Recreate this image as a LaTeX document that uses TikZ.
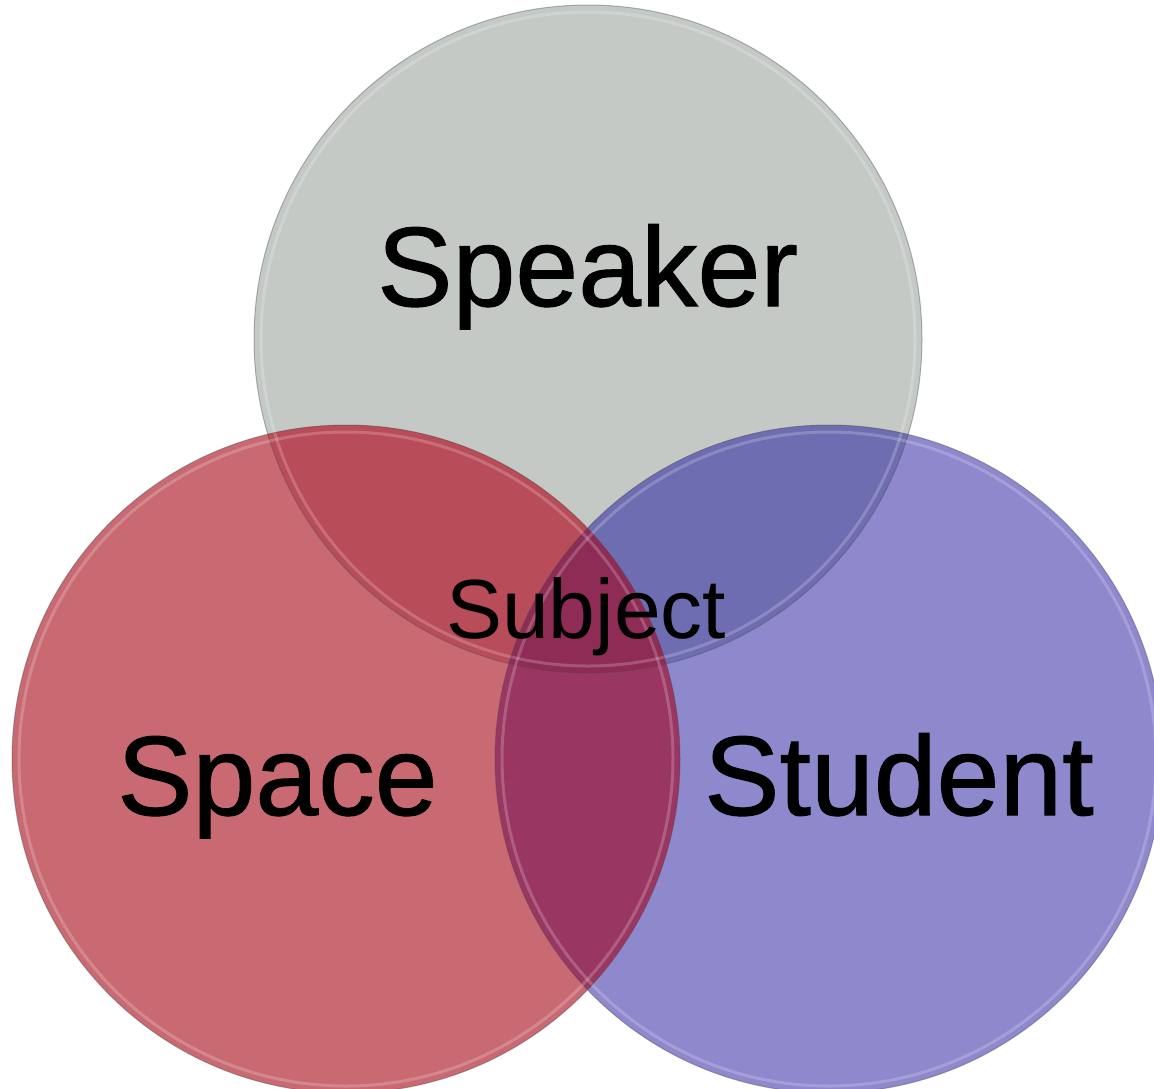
\documentclass[tikz,border=0pt]{standalone}
\usepackage{fontspec}
\setmainfont{Liberation Sans}
\newfontfamily\heavyish[FakeBold=0.9]{Liberation Sans}
\definecolor{cgray}{HTML}{C4C9C6}
\definecolor{cred}{HTML}{C96A73}
\definecolor{cpurple}{HTML}{8E88CD}
\definecolor{crg}{HTML}{B84C58}
\definecolor{cpg}{HTML}{6F6DB1}
\definecolor{crp}{HTML}{993662}
\definecolor{crpg}{HTML}{8E2C55}
\tikzset{
  rim/.style={draw=black!70, draw opacity=0.4, line width=1pt},
  bevel/.style={draw=white, draw opacity=0.2, line width=3pt},
  bigtext/.style={font=\heavyish\fontsize{113}{120}\selectfont, inner sep=0pt, anchor=base west, text=black},
  midtext/.style={font=\fontsize{84}{90}\selectfont, inner sep=0pt, anchor=base west, text=black}
}
\begin{document}
\begin{tikzpicture}[x=1pt,y=-1pt]
\useasboundingbox (0,0) rectangle (1154,1088);
\coordinate (cg) at (588,339);
\coordinate (cr) at (346,759);
\coordinate (cp) at (829,759);
% base fills
\fill[cgray] (cg) circle (334pt);
\fill[cpurple] (cp) circle (334pt);
\fill[cred] (cr) circle (334pt);
% pairwise and triple overlaps
\begin{scope}
  \clip (cg) circle (334pt);
  \fill[crg] (cr) circle (334pt);
  \fill[cpg] (cp) circle (334pt);
\end{scope}
\begin{scope}
  \clip (cr) circle (334pt);
  \fill[crp] (cp) circle (334pt);
  \clip (cg) circle (334pt);
  \fill[crpg] (cp) circle (334pt);
\end{scope}
% rims and bevels
\foreach \c in {cg,cp,cr}{
  \draw[bevel] (\c) circle (327pt);
  \draw[rim] (\c) circle (334pt);
}
% labels
\node[bigtext] (speaker) at (377,306) {Speaker};
\node[bigtext] (space) at (117,815) {Space};
\node[bigtext] (student) at (704,815) {Student};
\node[midtext] (subject) at (446,638) {Subject};
\end{tikzpicture}
\end{document}
